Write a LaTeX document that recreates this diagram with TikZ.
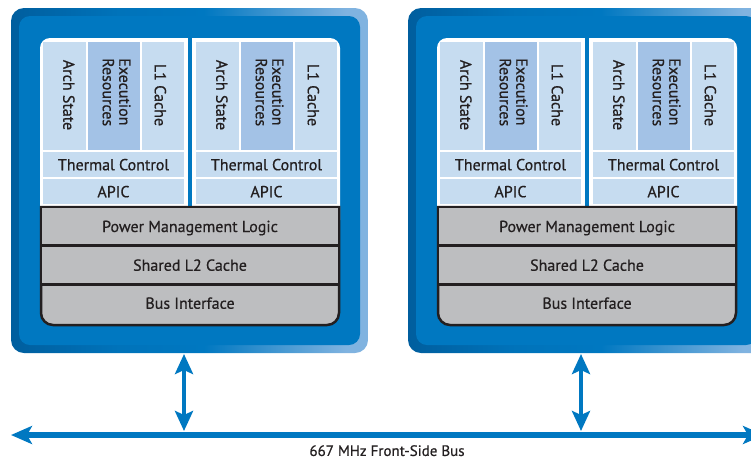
\documentclass[tikz,border=0pt]{standalone}
\usepackage{fontspec}
\setmainfont{PT Sans}[FakeBold=0.6]
\usetikzlibrary{arrows.meta}

\definecolor{pkgdark}{HTML}{005E9E}
\definecolor{pkgblue}{HTML}{0078C1}
\definecolor{pkglight}{HTML}{80B3E0}
\definecolor{cellblue}{HTML}{C6DCF0}
\definecolor{execblue}{HTML}{A3C2E6}
\definecolor{logicgrey}{HTML}{BDBEC0}
\definecolor{inkdark}{HTML}{231F20}

\pgfdeclarehorizontalshading{pkgrim}{100bp}{color(0bp)=(pkgdark); color(25bp)=(pkgdark); color(40bp)=(pkgblue!80!pkgdark); color(52bp)=(pkgblue); color(72bp)=(pkglight); color(100bp)=(pkglight)}

\begin{document}
\begin{tikzpicture}[x=1pt, y=-1pt,
    cell/.style={fill=cellblue, inner sep=0pt},
    lbl/.style={text=inkdark, font=\fontsize{16}{17}\selectfont, text height=11.5pt, text depth=0pt, inner sep=0pt},
    vlbl/.style={lbl, rotate=-90},
    logic/.style={lbl, draw=inkdark, fill=logicgrey, line width=2.5pt, minimum width=298pt},
    link/.style={draw=pkgblue, line width=4pt, {Stealth[length=20pt,width=18pt,inset=4pt]}-{Stealth[length=20pt,width=18pt,inset=4pt]}},
    fsb/.style={draw=pkgblue, line width=5.5pt, {Stealth[length=21pt,width=18pt,inset=5pt]}-{Stealth[length=21pt,width=18pt,inset=5pt]}}]
    \useasboundingbox (0,0) rectangle (751,459);
    \clip (0,0) rectangle (751,459);

    % packages
    \foreach \p/\m in {0/A, 397/B} {
        \shade[shading=pkgrim, rounded corners=13] (\p+11,8) rectangle (\p+368,353);
        \fill[pkgblue, rounded corners=11] (\p+19,16) rectangle (\p+360,345);
        \fill[white, rounded corners=10] (\p+40,38) rectangle (\p+340,230);
        \fill[pkgblue] (\p+187.5,38) rectangle (\p+191.5,206.5);
        \draw[inkdark, fill=logicgrey, line width=2.5pt] (\p+41,207) -- (\p+339,207) -- (\p+339,313)
            arc (0:90:12) -- (\p+53,325) arc (90:180:12) -- cycle;
        \node[logic, minimum height=38.5pt] (pml\m) at (\p+190,226.25) {Power Management Logic};
        \node[logic, minimum height=39pt] (cache\m) at (\p+190,265) {Shared L2 Cache};
        \node[lbl] (biu\m) at (\p+190,303) {Bus Interface};
    }

    % cores
    \foreach \o/\n in {0/a, 153/b, 397/c, 550/d} {
        \node[cell, minimum width=43pt, minimum height=108pt] (arch\n) at (\o+64.5,96) {};
        \node[cell, fill=execblue, minimum width=52pt, minimum height=108pt] (exec\n) at (\o+114,96) {};
        \node[cell, minimum width=42pt, minimum height=108pt] (cache\n) at (\o+163,96) {};
        \node[vlbl] (archT\n) at (\o+69,95) {Arch State};
        \node[vlbl, anchor=west] (execT\n) at (\o+125,58) {Execution};
        \node[vlbl, anchor=west] (resT\n) at (\o+108.5,58) {Resources};
        \node[vlbl] (cacheT\n) at (\o+160.5,95) {L1 Cache};
        \node[cell, lbl, minimum width=141pt, minimum height=25pt] (therm\n) at (\o+113.5,164.5) {Thermal Control};
        \node[cell, lbl, minimum width=141pt, minimum height=25pt] (apic\n) at (\o+113.5,191.5) {APIC};
    }

    % front-side bus
    \coordinate (fsbW) at (11,435);
    \coordinate (fsbE) at (764,435);
    \draw[fsb] (fsbW) -- (fsbE);
    \node[lbl, font=\fontsize{15}{17}\selectfont, text height=10.8pt] (fsbT) at (387,450.5) {667 MHz Front-Side Bus};

    \coordinate (pkgA) at (184,354);
    \coordinate (tapA) at (184,431);
    \coordinate (pkgB) at (581,354);
    \coordinate (tapB) at (581,431);
    \draw[link] (pkgA) -- (tapA);
    \draw[link] (pkgB) -- (tapB);
\end{tikzpicture}
\end{document}
